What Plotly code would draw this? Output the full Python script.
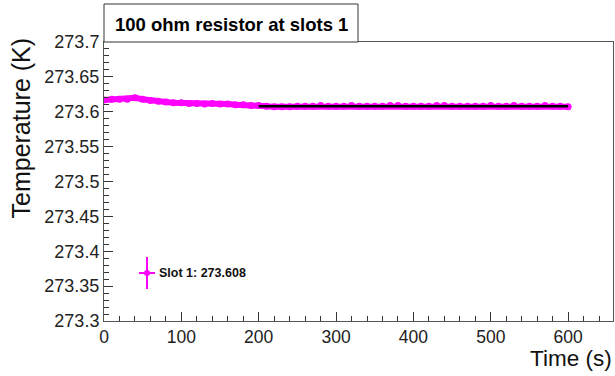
import plotly.graph_objects as go

# Data
time_s = [0, 10, 20, 30, 40, 50, 60, 70, 80, 90, 100, 110, 120, 130, 140, 150, 160, 170, 180, 190,
          200, 210, 220, 230, 240, 250, 260, 270, 280, 290, 300, 310, 320, 330, 340, 350, 360, 370,
          380, 390, 400, 410, 420, 430, 440, 450, 460, 470, 480, 490, 500, 510, 520, 530, 540, 550,
          560, 570, 580, 590, 600]
temp_k = [273.617, 273.618, 273.618, 273.618, 273.620, 273.618, 273.616, 273.615, 273.614, 273.613,
          273.613, 273.612, 273.612, 273.611, 273.612, 273.611, 273.611, 273.610, 273.610, 273.609,
          273.609, 273.608, 273.607, 273.607, 273.607, 273.608, 273.608, 273.608, 273.609, 273.608,
          273.608, 273.608, 273.609, 273.608, 273.608, 273.608, 273.608, 273.609, 273.609, 273.608,
          273.608, 273.608, 273.608, 273.609, 273.609, 273.608, 273.608, 273.608, 273.608, 273.608,
          273.609, 273.608, 273.608, 273.609, 273.608, 273.608, 273.608, 273.609, 273.608, 273.608,
          273.607]
fit_time = [200, 600]
fit_value = 273.608
legend_label = "Slot 1: 273.608"
title_text = "100 ohm resistor at slots 1"

W, H = 615, 376
L, R, T, B = 104, 2, 42, 55
FONT = "Liberation Sans, Arial, Helvetica, sans-serif"
MAG = "#ff00ff"

def px(x):
    return (x - L) / (W - L - R)

def py(y):
    return 1 - (y - T) / (H - T - B)

fig = go.Figure()
fig.add_trace(go.Scatter(x=time_s, y=temp_k, mode="lines+markers",
                         line=dict(color=MAG, width=6), marker=dict(color=MAG, size=7),
                         showlegend=False))
fig.add_trace(go.Scatter(x=fit_time, y=[fit_value] * len(fit_time), mode="lines",
                         line=dict(color="black", width=2.5), showlegend=False))

# legend entry (paper coords)
lx, ly = 147, 273
shapes = [
    dict(type="line", xref="paper", yref="paper", x0=px(lx), x1=px(lx), y0=py(ly - 16), y1=py(ly + 16),
         line=dict(color=MAG, width=2)),
    dict(type="line", xref="paper", yref="paper", x0=px(lx - 8), x1=px(lx + 8), y0=py(ly), y1=py(ly),
         line=dict(color=MAG, width=2)),
    dict(type="circle", xref="paper", yref="paper", x0=px(lx - 3), x1=px(lx + 3), y0=py(ly - 3), y1=py(ly + 3),
         fillcolor=MAG, line=dict(color=MAG, width=0)),
    # title box
    dict(type="rect", xref="paper", yref="paper", x0=px(104), x1=px(358), y0=py(42), y1=py(4),
         line=dict(color="#333", width=1), fillcolor="white"),
]

annotations = [
    dict(text="<b>" + legend_label + "</b>", xref="paper", yref="paper", x=px(157), y=py(ly), xanchor="left",
         yanchor="middle", showarrow=False, font=dict(family=FONT, size=12.5, color="#111")),
    dict(text="<b>" + title_text + "</b>", xref="paper", yref="paper", x=px(231.5), y=py(24),
         xanchor="center", yanchor="middle", showarrow=False, font=dict(family=FONT, size=18.5, color="black")),
    dict(text="Temperature (K)", xref="paper", yref="paper", x=px(20), y=py(128.5), textangle=-90,
         xanchor="center", yanchor="middle", showarrow=False, font=dict(family=FONT, size=25, color="#111")),
    dict(text="Time (s)", xref="paper", yref="paper", x=px(614), y=py(358), xanchor="right", yanchor="middle",
         showarrow=False, font=dict(family=FONT, size=22.5, color="#111")),
]

fig.update_layout(
    width=W, height=H,
    margin=dict(l=L, r=R, t=T, b=B, pad=0),
    paper_bgcolor="white", plot_bgcolor="white",
    shapes=shapes, annotations=annotations,
    showlegend=False,
    xaxis=dict(range=[0, 658], tick0=0, dtick=100, ticks="inside", ticklen=9, tickcolor="#333",
               showgrid=False, zeroline=False, showline=True, linecolor="#555", linewidth=1, mirror=True,
               tickfont=dict(family=FONT, size=17.5, color="#222"),
               minor=dict(ticks="inside", ticklen=5, dtick=20, tickcolor="#333", showgrid=False)),
    yaxis=dict(range=[273.3, 273.7], tick0=273.3, dtick=0.05, ticks="inside", ticklen=9, tickcolor="#333",
               showgrid=False, zeroline=False, showline=True, linecolor="#555", linewidth=1, mirror=True,
               tickfont=dict(family=FONT, size=18, color="#222"), ticklabelstandoff=0,
               minor=dict(ticks="inside", ticklen=5, dtick=0.01, tickcolor="#333", showgrid=False)),
)

fig.write_html("out.html")
